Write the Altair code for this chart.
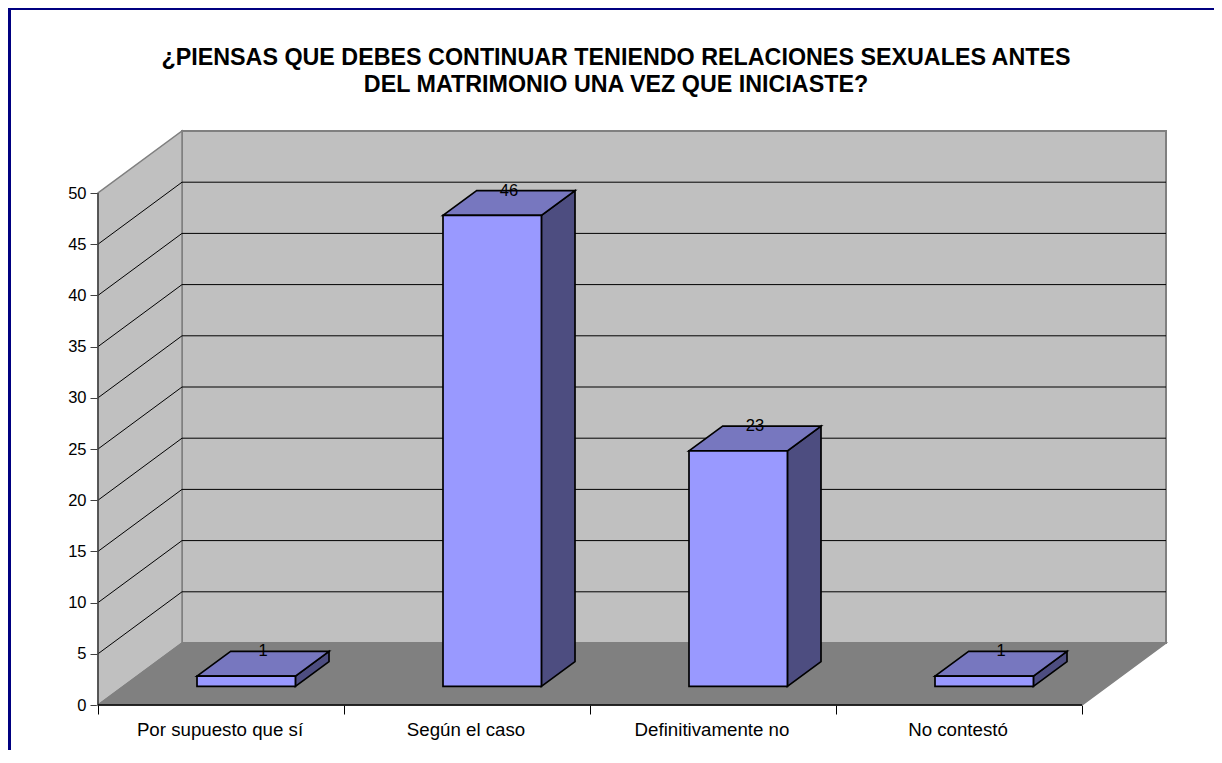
import altair as alt
import pandas as pd

categories = ["Por supuesto que sí", "Según el caso", "Definitivamente no", "No contestó"]
values = [1, 46, 23, 1]
y_ticks = list(range(0, 55, 5))
title_lines = ["¿PIENSAS QUE DEBES CONTINUAR TENIENDO RELACIONES SEXUALES ANTES",
               "DEL MATRIMONIO UNA VEZ QUE INICIASTE?"]

FONT = "Liberation Sans"
PX_X = 246.0      # pixels per category
PX_Y = 10.24      # pixels per value unit
W, H = 1068, 575
DX, DY = 84 / PX_X, 62 / PX_Y  # full depth of the floor
BAR_W = 0.4
BAR_START = 0.3   # depth fraction where bars begin
BAR_DEPTH = 0.4

xs = alt.Scale(domain=[0, W / PX_X], nice=False, zero=False)
ys = alt.Scale(domain=[0, H / PX_Y], nice=False, zero=False)
X = alt.X("x:Q", scale=xs, title=None)
Y = alt.Y("y:Q", scale=ys, title=None)


def vert_area(rows, fill, stroke, sw=1.0):
    return alt.Chart(pd.DataFrame(rows, columns=["x", "y", "y2"])).mark_area(
        fill=fill, stroke=stroke, strokeWidth=sw, opacity=1, interpolate="linear"
    ).encode(x=X, y=Y, y2="y2:Q")


def horiz_area(rows, fill, stroke, sw=1.0):
    return alt.Chart(pd.DataFrame(rows, columns=["y", "x", "x2"])).mark_area(
        fill=fill, stroke=stroke, strokeWidth=sw, opacity=1, orient="horizontal", interpolate="linear"
    ).encode(y=Y, x=X, x2="x2:Q")


layers = []
# back wall
layers.append(alt.Chart(pd.DataFrame({"x": [DX], "x2": [4 + DX], "y": [DY], "y2": [50 + DY]}))
              .mark_rect(fill="#C0C0C0", stroke="#808080", strokeWidth=2)
              .encode(x=X, x2="x2:Q", y=Y, y2="y2:Q"))
# left wall
layers.append(vert_area([(0, 0, 50), (DX, DY, 50 + DY)], "#C0C0C0", "#808080", 1.5))
# floor
layers.append(horiz_area([(0, 0, 4), (DY, DX, 4 + DX)], "#808080", "#808080", 1.5))

# grid lines
grid = []
for v in y_ticks[1:-1]:
    grid += [
        {"g": v, "o": 0, "x": 0, "y": v},
        {"g": v, "o": 1, "x": DX, "y": v + DY},
        {"g": v, "o": 2, "x": 4 + DX, "y": v + DY},
    ]
layers.append(alt.Chart(pd.DataFrame(grid)).mark_line(color="#000000", strokeWidth=1)
              .encode(x=X, y=Y, detail="g:N", order="o:Q"))

# bars
bdx, bdy = DX * BAR_DEPTH, DY * BAR_DEPTH
sx, sy = DX * BAR_START, DY * BAR_START
for i, v in enumerate(values):
    l = i + 0.5 - BAR_W / 2 + sx
    r = l + BAR_W
    layers.append(vert_area([(r, sy, sy + v), (r + bdx, sy + bdy, sy + bdy + v)], "#4D4D80", "#000000", 1.7))
    layers.append(horiz_area([(sy + v, l, r), (sy + v + bdy, l + bdx, r + bdx)], "#7777BF", "#000000", 1.7))
    layers.append(alt.Chart(pd.DataFrame({"x": [l], "x2": [r], "y": [sy], "y2": [sy + v]}))
                  .mark_rect(fill="#9999FF", stroke="#000000", strokeWidth=1.7)
                  .encode(x=X, x2="x2:Q", y=Y, y2="y2:Q"))

# value labels
lab = pd.DataFrame({
    "x": [i + 0.5 + sx + bdx / 2 for i in range(4)],
    "y": [sy + bdy + v for v in values],
    "t": [str(v) for v in values],
})
layers.append(alt.Chart(lab).mark_text(font=FONT, fontSize=16.5, color="#000000", baseline="middle", dy=0)
              .encode(x=X, y=Y, text="t:N"))

# axis lines
layers.append(alt.Chart(pd.DataFrame({"x": [0], "y": [0], "y2": [50]}))
              .mark_rule(color="#404040", strokeWidth=1.5).encode(x=X, y=Y, y2="y2:Q"))
layers.append(alt.Chart(pd.DataFrame({"x": [0], "x2": [4], "y": [0]}))
              .mark_rule(color="#000000", strokeWidth=1.5).encode(x=X, x2="x2:Q", y=Y))

# axes (ticks and labels)
axes = alt.Chart(pd.DataFrame({"x": [0], "y": [0]})).mark_point(opacity=0).encode(
    x=alt.X("x:Q", scale=xs, title=None,
            axis=alt.Axis(values=[0, 1, 2, 3, 4], labels=False, grid=False, domain=False,
                          tickSize=9, tickColor="#000000", tickWidth=1)),
    y=alt.Y("y:Q", scale=ys, title=None,
            axis=alt.Axis(values=y_ticks, grid=False, domain=False, tickSize=8, tickColor="#404040",
                          tickWidth=1, labelFont=FONT, labelFontSize=16.5, labelColor="#000000",
                          labelPadding=4)),
)
layers.insert(0, axes)

# category labels
cat = pd.DataFrame({"x": [i + 0.5 for i in range(4)], "y": [0] * 4, "c": categories})
layers.append(alt.Chart(cat).mark_text(font=FONT, fontSize=18.7, color="#000000", baseline="middle", dx=-1, dy=25)
              .encode(x=X, y=Y, text="c:N"))

# outer frame (only top and left edges fall inside the picture)
layers.append(alt.Chart(pd.DataFrame({"k": [0]})).mark_rule(color="#000080", strokeWidth=2)
              .encode(x=alt.value(-90), x2=alt.value(1116), y=alt.value(-121)))
layers.append(alt.Chart(pd.DataFrame({"k": [0]})).mark_rule(color="#000080", strokeWidth=3)
              .encode(x=alt.value(-88.5), y=alt.value(-122), y2=alt.value(623)))

chart = alt.layer(*layers).properties(
    width=W, height=H,
    padding={"left": 90, "top": 122, "right": 48, "bottom": 45},
    autosize=alt.AutoSizeParams(type="none"),
    title=alt.TitleParams(text=title_lines, font=FONT, fontSize=23.3, fontWeight="bold", color="#000000",
                          anchor="middle", dx=-16, offset=-91, lineHeight=27),
).configure_view(stroke=None)

chart.save("out.html", embed_options={"renderer": "svg", "actions": False})
